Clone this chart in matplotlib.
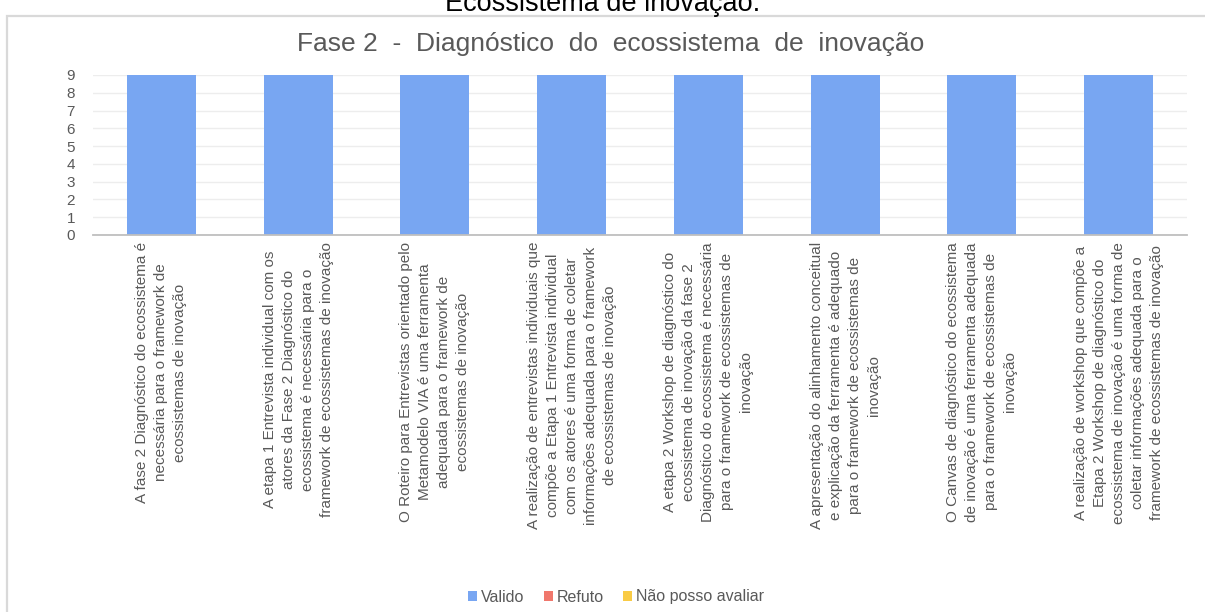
import matplotlib
matplotlib.use("Agg")
import matplotlib.pyplot as plt
from matplotlib.patches import Patch, Rectangle
from matplotlib import font_manager
import numpy as np

plt.rcParams['font.family'] = ['Liberation Sans', 'DejaVu Sans']

categories = [
    "A fase 2 Diagnóstico do ecossistema é\nnecessária para o framework de\necossistemas de inovação",
    "A etapa 1 Entrevista individual com os\natores da Fase 2 Diagnóstico do\necossistema é necessária para o\nframework de ecossistemas de inovação",
    "O Roteiro para Entrevistas orientado pelo\nMetamodelo VIA é uma ferramenta\nadequada para o framework de\necossistemas de inovação",
    "A realização de entrevistas individuais que\ncompõe a Etapa 1 Entrevista individual\ncom os atores é uma forma de coletar\ninformações adequada para o framework\nde ecossistemas de inovação",
    "A etapa 2 Workshop de diagnóstico do\necossistema de inovação da fase 2\nDiagnóstico do ecossistema é necessária\npara o framework de ecossistemas de\ninovação",
    "A apresentação do alinhamento conceitual\ne explicação da ferramenta é adequado\npara o framework de ecossistemas de\ninovação",
    "O Canvas de diagnóstico do ecossistema\nde inovação é uma ferramenta adequada\npara o framework de ecossistemas de\ninovação",
    "A realização de workshop que compõe a\nEtapa 2 Workshop de diagnóstico do\necossistema de inovação é uma forma de\ncoletar informações adequada para o\nframework de ecossistemas de inovação",
]
valido = [9, 9, 9, 9, 9, 9, 9, 9]
refuto = [0, 0, 0, 0, 0, 0, 0, 0]
nao_posso = [0, 0, 0, 0, 0, 0, 0, 0]
series_names = ["Valido", "Refuto", "Não posso avaliar"]
y_ticks = [0, 1, 2, 3, 4, 5, 6, 7, 8, 9]

colors = ["#78A6F2", "#F0776C", "#F9CB45"]
text_gray = "#595959"

# condensed face for the rotated category labels, when available
installed = {f.name for f in font_manager.fontManager.ttflist}
if "Liberation Sans Narrow" in installed:
    label_family, label_size, label_spacing = ["Liberation Sans Narrow", "DejaVu Sans"], 13.0, 1.24
else:
    label_family, label_size, label_spacing = ["Liberation Sans", "DejaVu Sans"], 11.0, 1.45

W, H = 1205, 612
fig = plt.figure(figsize=(W / 100, H / 100), dpi=100)

# chart frame
fig.patches.append(Rectangle((7.5 / W, -0.05), 1.2, 1 - 15.5 / H + 0.05,
                             transform=fig.transFigure, fill=False,
                             edgecolor="#D9D9D9", linewidth=1.6, zorder=0))

# caption above the frame
fig.text(603 / W, 1 - 11 / H, "Ecossistema de inovação.", ha="center",
         va="baseline", fontsize=19.5, color="black")

ax = fig.add_axes([93 / W, 1 - 235 / H, (1187 - 93) / W, (235 - 75) / H])
x = np.arange(len(categories))
width = 0.505
ax.bar(x, valido, width, color=colors[0], zorder=3)
ax.bar(x, refuto, width, bottom=valido, color=colors[1], zorder=3)
ax.bar(x, nao_posso, width, bottom=np.add(valido, refuto), color=colors[2], zorder=3)

ax.set_xlim(-0.5, len(categories) - 0.5)
ax.set_ylim(0, 9)
ax.set_yticks(y_ticks)
ax.set_yticklabels([str(v) for v in y_ticks], fontsize=11, color=text_gray)
ax.set_xticks(x)
ax.set_xticklabels(categories, rotation=90, fontsize=label_size, color=text_gray,
                   multialignment="center", linespacing=label_spacing,
                   family=label_family)
ax.tick_params(axis="both", length=0)
ax.tick_params(axis="x", pad=5)
ax.tick_params(axis="y", pad=13)
ax.grid(axis="y", color="#EDEDED", linewidth=1.0, zorder=0)
for s in ["top", "right", "left"]:
    ax.spines[s].set_visible(False)
ax.spines["bottom"].set_color("#BFBFBF")
ax.spines["bottom"].set_linewidth(1.3)
ax.spines["bottom"].set_zorder(4)

fig.text(611 / W, 1 - 44 / H, "Fase 2  -  Diagnóstico  do  ecossistema  de  inovação",
         ha="center", va="center", fontsize=19, color=text_gray)

handles = [Patch(facecolor=c, edgecolor="none") for c in colors]
fig.legend(handles, series_names, loc="center", bbox_to_anchor=(616 / W, 1 - 597 / H),
           ncol=3, frameon=False, fontsize=11.5, handlelength=0.55, handleheight=0.55,
           handletextpad=0.25, columnspacing=1.2, labelcolor=text_gray)

fig.savefig("out.png", dpi=100, facecolor="white")
